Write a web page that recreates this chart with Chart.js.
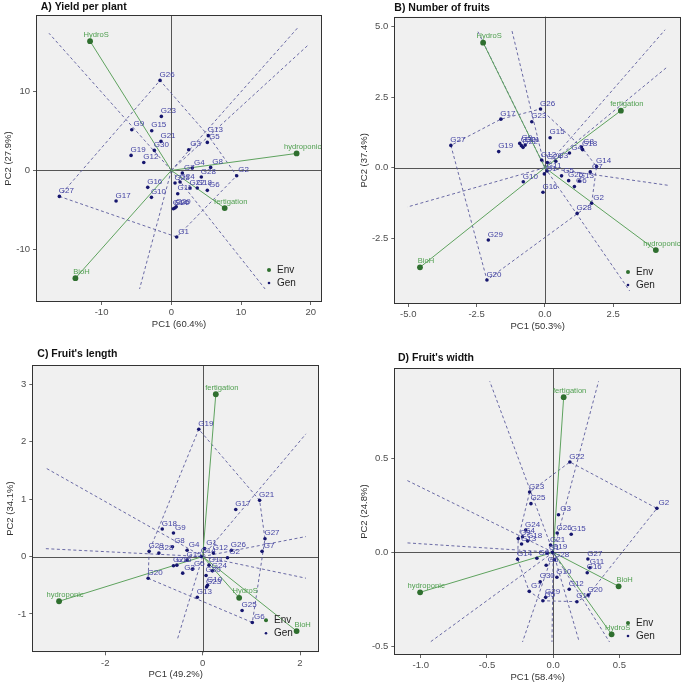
<!DOCTYPE html>
<html>
<head>
<meta charset="utf-8">
<script src="https://cdn.jsdelivr.net/npm/chart.js@4.4.1/dist/chart.umd.min.js"></script>
<style>
html, body { margin: 0; padding: 0; background: #fff; }
#wrap { position: relative; width: 685px; height: 686px; overflow: hidden; }
canvas { position: absolute; }
</style>
</head>
<body>
<div id="wrap">
  <canvas id="cA" width="342" height="340" style="left:0px;top:0px"></canvas>
  <canvas id="cB" width="342" height="340" style="left:343px;top:0px"></canvas>
  <canvas id="cC" width="342" height="346" style="left:0px;top:340px"></canvas>
  <canvas id="cD" width="342" height="346" style="left:343px;top:340px"></canvas>
</div>
<script>
// ---- dati ----
const genotypes = ['G1','G2','G3','G4','G5','G6','G7','G8','G9','G10',
  'G11','G12','G13','G14','G15','G16','G17','G18','G19','G20',
  'G21','G22','G23','G24','G25','G26','G27','G28','G29','G30'];
const envNames = ['HydroS', 'hydroponic', 'fertigation', 'BioH'];

// A) Yield per plant
const yieldGenX = [0.77, 9.37, 2.49, 3.0, 5.16, 5.16, 1.58, 5.64, -5.67, -2.85,
  0.92, -3.95, 5.3, 0.29, -2.81, -3.38, -7.92, 3.72, -5.77, 0.5,
  -1.48, 2.68, -1.43, 1.25, 0.53, -1.62, -16.05, 4.3, 0.7, -2.43];
const yieldGenY = [-8.4, -0.67, 2.61, 0.3, 3.53, -2.52, -0.33, 0.38, 5.13, -3.4,
  -2.94, 1.0, 4.38, -4.83, 5.0, -2.14, -3.86, -2.22, 1.89, -4.75,
  3.66, -2.22, 6.81, -1.46, -1.59, 11.35, -3.28, -0.83, -4.6, 2.52];
const yieldEnvX = [-11.65, 17.96, 7.65, -13.75];
const yieldEnvY = [16.3, 2.14, -4.75, -13.6];
const yieldTicksX = [-10, 0, 10, 20];
const yieldTicksY = [-10, 0, 10];

// B) Number of fruits
const fruitsGenX = [-0.02, 1.71, 0.4, 0.9, 0.61, 1.08, 1.66, 1.34, -0.92, -0.79,
  0.08, -0.12, 1.26, 1.89, 0.19, -0.07, -1.61, 1.38, -1.69, -2.12,
  -0.72, -0.8, -0.48, 0.09, 0.87, -0.16, -3.44, 1.18, -2.07, -0.86];
const fruitsGenY = [-0.22, -1.26, 0.23, 0.52, -0.29, -0.67, -0.15, 0.73, 0.86, -0.5,
  -0.12, 0.27, -0.47, 0.04, 1.06, -0.87, 1.72, 0.64, 0.57, -3.98,
  0.8, 0.72, 1.63, 0.18, -0.46, 2.08, 0.79, -1.62, -2.56, 0.78];
const fruitsEnvX = [-2.26, 4.06, 2.78, -4.57];
const fruitsEnvY = [4.43, -2.92, 2.02, -3.53];
const fruitsTicksX = [-5.0, -2.5, 0.0, 2.5];
const fruitsTicksY = [-2.5, 0.0, 2.5, 5.0];

// C) Fruit's length
const lengthGenX = [0.04, 0.51, -0.41, -0.32, -0.21, 1.02, 1.22, -0.62, -0.6, 0.1,
  0.13, 0.22, -0.11, -0.03, -0.32, -0.53, 0.68, -0.83, -0.08, -1.12,
  1.17, -0.6, 0.08, 0.2, 0.81, 0.59, 1.28, -0.9, -1.1, 0.07];
const lengthGenY = [0.14, -0.02, -0.29, 0.11, -0.22, -1.15, 0.09, 0.17, 0.41, -0.5,
  -0.15, 0.06, -0.71, 0.0, -0.06, -0.15, 0.82, 0.48, 2.22, -0.38,
  0.98, -0.16, -0.53, -0.25, -0.94, 0.11, 0.31, 0.06, 0.09, -0.33];
const lengthEnvX = [0.75, -2.95, 0.27, 1.93];
const lengthEnvY = [-0.72, -0.78, 2.83, -1.3];
const lengthTicksX = [-2, 0, 2];
const lengthTicksY = [-1, 0, 1, 2, 3];

// D) Fruit's width
const widthGenX = [-0.045, 0.783, 0.04, -0.231, -0.078, -0.053, -0.181, -0.123, -0.264, 0.028,
  0.277, 0.121, -0.239, -0.269, 0.136, 0.257, 0.179, -0.193, -0.005, 0.264,
  -0.02, 0.126, -0.178, -0.208, -0.168, 0.03, 0.262, 0.01, -0.057, -0.098];
const widthGenY = [-0.005, 0.234, 0.2, 0.083, -0.258, -0.069, -0.208, -0.032, 0.073, -0.133,
  -0.082, -0.197, 0.044, -0.037, 0.096, -0.109, -0.263, 0.06, 0.0, -0.228,
  0.039, 0.481, 0.321, 0.119, 0.259, 0.103, -0.036, -0.04, -0.24, -0.157];
const widthEnvX = [0.441, -1.005, 0.079, 0.494];
const widthEnvY = [-0.437, -0.213, 0.826, -0.181];
const widthTicksX = [-1.0, -0.5, 0.0, 0.5];
const widthTicksY = [-0.5, 0.0, 0.5];

// colori
const GEN_COL = '#16166e';
const GEN_TXT = '#4444a4';
const ENV_COL = '#2f6f2f';
const ENV_TXT = '#4f9f4f';
const GREEN_LINE = '#5fa35f';
const DASH_COL = '#5a5a9c';
const FONT = '"Liberation Sans", Arial, sans-serif';

const panels = [
  { id: 'cA', title: 'A) Yield per plant', xLabel: 'PC1 (60.4%)', yLabel: 'PC2 (27.9%)',
    gx: yieldGenX, gy: yieldGenY, ex: yieldEnvX, ey: yieldEnvY,
    xMin: -19.4, xMax: 21.6, yMin: -16.6, yMax: 19.6, xt: yieldTicksX, yt: yieldTicksY, dec: 0,
    w: 342, h: 340, l: 36, t: 15, r: 322, b: 302, tdx: 4.7, tdy: 8.3 },
  { id: 'cB', title: 'B) Number of fruits', xLabel: 'PC1 (50.3%)', yLabel: 'PC2 (37.4%)',
    gx: fruitsGenX, gy: fruitsGenY, ex: fruitsEnvX, ey: fruitsEnvY,
    xMin: -5.51, xMax: 4.98, yMin: -4.83, yMax: 5.35, xt: fruitsTicksX, yt: fruitsTicksY, dec: 1,
    w: 342, h: 340, l: 51.3, t: 16.7, r: 338, b: 304, tdx: 0, tdy: 8.4 },
  { id: 'cC', title: "C) Fruit's length", xLabel: 'PC1 (49.2%)', yLabel: 'PC2 (34.1%)',
    gx: lengthGenX, gy: lengthGenY, ex: lengthEnvX, ey: lengthEnvY,
    xMin: -3.5, xMax: 2.39, yMin: -1.67, yMax: 3.34, xt: lengthTicksX, yt: lengthTicksY, dec: 0,
    w: 342, h: 346, l: 32.3, t: 25, r: 319, b: 312.3, tdx: 5, tdy: 11 },
  { id: 'cD', title: "D) Fruit's width", xLabel: 'PC1 (58.4%)', yLabel: 'PC2 (24.8%)',
    gx: widthGenX, gy: widthGenY, ex: widthEnvX, ey: widthEnvY,
    xMin: -1.2, xMax: 0.965, yMin: -0.547, yMax: 0.98, xt: widthTicksX, yt: widthTicksY, dec: 1,
    w: 342, h: 346, l: 51.3, t: 28.3, r: 338, b: 315, tdx: 3.7, tdy: 10.6 }
];

// inviluppo convesso (monotone chain)
function convexHull(pts) {
  const p = pts.slice().sort((a, b) => a.x - b.x || a.y - b.y);
  const cross = (o, a, b) => (a.x - o.x) * (b.y - o.y) - (a.y - o.y) * (b.x - o.x);
  const lower = [], upper = [];
  for (const q of p) {
    while (lower.length >= 2 && cross(lower[lower.length - 2], lower[lower.length - 1], q) <= 0) lower.pop();
    lower.push(q);
  }
  for (let i = p.length - 1; i >= 0; i--) {
    const q = p[i];
    while (upper.length >= 2 && cross(upper[upper.length - 2], upper[upper.length - 1], q) <= 0) upper.pop();
    upper.push(q);
  }
  upper.pop(); lower.pop();
  return lower.concat(upper);
}

// raggi perpendicolari ai lati del poligono, fino al box interno
function buildRays(hull, P) {
  const rx = (P.xMax - P.xMin) / 22, ry = (P.yMax - P.yMin) / 22;
  const bx0 = P.xMin + rx, bx1 = P.xMax - rx, by0 = P.yMin + ry, by1 = P.yMax - ry;
  const rays = [];
  for (let i = 0; i < hull.length; i++) {
    const a = hull[i], c = hull[(i + 1) % hull.length];
    const dx = c.x - a.x, dy = c.y - a.y;
    const t = -(a.x * dx + a.y * dy) / (dx * dx + dy * dy);
    const fx = a.x + t * dx, fy = a.y + t * dy;
    const n = Math.hypot(fx, fy);
    if (n < 1e-9) continue;
    const ux = fx / n, uy = fy / n;
    let s = Infinity;
    if (ux > 0) s = Math.min(s, bx1 / ux);
    if (ux < 0) s = Math.min(s, bx0 / ux);
    if (uy > 0) s = Math.min(s, by1 / uy);
    if (uy < 0) s = Math.min(s, by0 / uy);
    rays.push([{ x: 0, y: 0 }, { x: ux * s, y: uy * s }]);
  }
  return rays;
}

const bipPlugin = {
  id: 'biplotDecor',
  beforeDraw(chart) {
    const { ctx, chartArea: a } = chart;
    ctx.save();
    ctx.fillStyle = '#f0f0f0';
    ctx.fillRect(a.left, a.top, a.right - a.left, a.bottom - a.top);
    ctx.restore();
  },
  beforeDatasetsDraw(chart) {
    const { ctx, chartArea: a, scales } = chart;
    const x0 = scales.x.getPixelForValue(0), y0 = scales.y.getPixelForValue(0);
    ctx.save();
    ctx.strokeStyle = '#555';
    ctx.lineWidth = 1;
    ctx.beginPath();
    ctx.moveTo(Math.round(x0) + 0.5, a.top); ctx.lineTo(Math.round(x0) + 0.5, a.bottom);
    ctx.moveTo(a.left, Math.round(y0) + 0.5); ctx.lineTo(a.right, Math.round(y0) + 0.5);
    ctx.stroke();
    ctx.restore();
  },
  afterDatasetsDraw(chart) {
    const { ctx, chartArea: a, scales } = chart;
    const P = chart.options.plugins.biplotDecor.panel;
    ctx.save();
    ctx.beginPath();
    ctx.rect(a.left, a.top, a.right - a.left, a.bottom - a.top);
    ctx.clip();
    ctx.textAlign = 'center';
    ctx.textBaseline = 'middle';
    ctx.font = '8px ' + FONT;
    ctx.fillStyle = GEN_TXT;
    genotypes.forEach((g, i) => {
      const px = scales.x.getPixelForValue(P.gx[i]), py = scales.y.getPixelForValue(P.gy[i]);
      ctx.fillText(g, px + 7, py - 5.5);
    });
    ctx.fillStyle = ENV_TXT;
    ctx.font = '7.6px ' + FONT;
    envNames.forEach((e, i) => {
      const px = scales.x.getPixelForValue(P.ex[i]), py = scales.y.getPixelForValue(P.ey[i]);
      ctx.fillText(e, px + 6, py - 6.5);
    });
    ctx.restore();

    // cornice
    ctx.save();
    ctx.strokeStyle = '#333';
    ctx.lineWidth = 1;
    ctx.strokeRect(Math.round(a.left) + 0.5, Math.round(a.top) + 0.5,
      Math.round(a.right - a.left) - 1, Math.round(a.bottom - a.top) - 1);
    ctx.restore();

    // legenda
    ctx.save();
    ctx.font = '10px ' + FONT;
    ctx.textBaseline = 'middle';
    ctx.textAlign = 'left';
    ctx.fillStyle = ENV_COL;
    ctx.beginPath(); ctx.arc(a.right - 53, a.bottom - 32, 2, 0, Math.PI * 2); ctx.fill();
    ctx.fillStyle = GEN_COL;
    ctx.beginPath(); ctx.arc(a.right - 53, a.bottom - 19, 1.3, 0, Math.PI * 2); ctx.fill();
    ctx.fillStyle = '#222';
    ctx.fillText('Env', a.right - 45, a.bottom - 32);
    ctx.fillText('Gen', a.right - 45, a.bottom - 19);
    ctx.restore();

    // titoli
    ctx.save();
    ctx.fillStyle = '#111';
    ctx.font = 'bold 10.5px ' + FONT;
    ctx.textAlign = 'left';
    ctx.textBaseline = 'middle';
    ctx.fillText(P.title, a.left + P.tdx, a.top - P.tdy);
    ctx.fillStyle = '#333';
    ctx.font = '9.5px ' + FONT;
    ctx.textAlign = 'center';
    ctx.fillText(P.xLabel, (a.left + a.right) / 2, a.bottom + 22);
    let wmax = 0;
    P.yt.forEach(v => { wmax = Math.max(wmax, ctx.measureText(v.toFixed(P.dec)).width); });
    const tx = a.left - 6 - wmax - 7.5;
    ctx.translate(tx, (a.top + a.bottom) / 2);
    ctx.rotate(-Math.PI / 2);
    ctx.fillText(P.yLabel, 0, 0);
    ctx.restore();
  }
};

panels.forEach(P => {
  const gen = P.gx.map((x, i) => ({ x: x, y: P.gy[i] }));
  const env = P.ex.map((x, i) => ({ x: x, y: P.ey[i] }));
  const hull = convexHull(gen);
  const rays = buildRays(hull, P);

  const datasets = [];
  datasets.push({ data: gen, showLine: false, pointRadius: 1.8, pointBackgroundColor: GEN_COL,
    pointBorderWidth: 0, order: 0 });
  datasets.push({ data: env, showLine: false, pointRadius: 2.9, pointBackgroundColor: ENV_COL,
    pointBorderWidth: 0, order: 1 });
  env.forEach(e => datasets.push({ data: [{ x: 0, y: 0 }, e], showLine: true, pointRadius: 0,
    borderColor: GREEN_LINE, borderWidth: 1, order: 2 }));
  rays.forEach(r => datasets.push({ data: r, showLine: true, pointRadius: 0,
    borderColor: DASH_COL, borderWidth: 0.9, borderDash: [3, 2.5], order: 3 }));
  datasets.push({ data: hull.concat([hull[0]]), showLine: true, pointRadius: 0,
    borderColor: DASH_COL, borderWidth: 0.9, borderDash: [3, 2.5], order: 4 });

  const tickFont = { family: FONT, size: 9.5 };
  new Chart(document.getElementById(P.id).getContext('2d'), {
    type: 'scatter',
    data: { datasets: datasets },
    options: {
      responsive: false,
      animation: false,
      events: [],
      layout: { padding: { left: 0, top: P.t, right: P.w - P.r, bottom: 0 } },
      plugins: {
        legend: { display: false },
        tooltip: { enabled: false },
        biplotDecor: { panel: P }
      },
      scales: {
        x: {
          type: 'linear', min: P.xMin, max: P.xMax,
          afterBuildTicks: s => { s.ticks = P.xt.map(v => ({ value: v })); },
          afterFit: s => { s.height = P.h - P.b; },
          ticks: { font: tickFont, color: '#4d4d4d', padding: 2, maxRotation: 0, autoSkip: false,
            callback: v => Number(v).toFixed(P.dec) },
          grid: { drawOnChartArea: false, drawTicks: true, tickLength: 3, color: '#666' },
          border: { display: false }
        },
        y: {
          type: 'linear', min: P.yMin, max: P.yMax,
          afterBuildTicks: s => { s.ticks = P.yt.map(v => ({ value: v })); },
          afterFit: s => { s.width = P.l; },
          ticks: { font: tickFont, color: '#4d4d4d', padding: 3, autoSkip: false,
            callback: v => Number(v).toFixed(P.dec) },
          grid: { drawOnChartArea: false, drawTicks: true, tickLength: 3, color: '#666' },
          border: { display: false }
        }
      }
    },
    plugins: [bipPlugin]
  });
});
</script>
</body>
</html>
